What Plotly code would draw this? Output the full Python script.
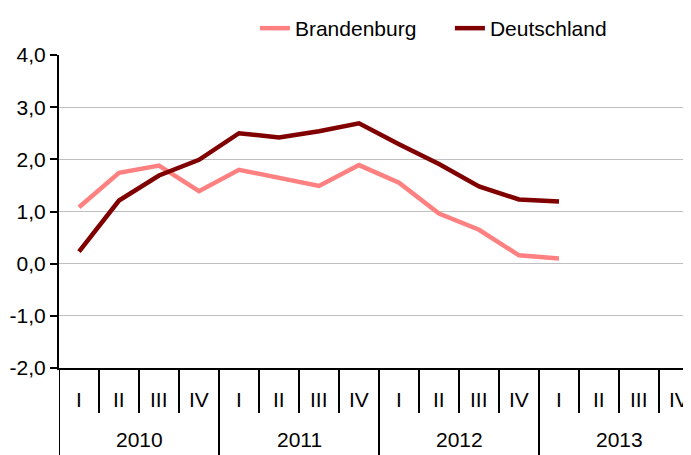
import plotly.graph_objects as go

years = ["2010", "2011", "2012", "2013"]
quarters = ["I", "II", "III", "IV"]
brandenburg = [1.08, 1.74, 1.88, 1.39, 1.80, 1.65, 1.49, 1.89, 1.55, 0.96, 0.65, 0.16, 0.10]
deutschland = [0.23, 1.21, 1.69, 1.99, 2.50, 2.42, 2.54, 2.69, 2.29, 1.91, 1.48, 1.23, 1.19]
y_ticks = [-2, -1, 0, 1, 2, 3, 4]
y_tick_labels = ["-2,0", "-1,0", "0,0", "1,0", "2,0", "3,0", "4,0"]

FONT = "Liberation Sans, Arial, sans-serif"
FS = 21
n_q = len(years) * len(quarters)

fig = go.Figure()
fig.add_trace(go.Scatter(x=list(range(len(brandenburg))), y=brandenburg, mode="lines",
                         name="Brandenburg", line=dict(color="#FF8080", width=4.5)))
fig.add_trace(go.Scatter(x=list(range(len(deutschland))), y=deutschland, mode="lines",
                         name="Deutschland", line=dict(color="#800000", width=4.5)))

shapes = []
annotations = []
for i in range(n_q):
    annotations.append(dict(x=i, y=-0.102, xref="x", yref="paper", text=quarters[i % 4],
                            showarrow=False, xanchor="center", yanchor="middle",
                            font=dict(size=FS, color="#000", family=FONT)))
    sep = i + 0.5
    if sep < n_q - 0.5:
        is_year = (i % 4) == 3
        shapes.append(dict(type="line", xref="x", yref="paper", x0=sep, x1=sep,
                           y0=0, y1=-0.32 if is_year else -0.1438,
                           line=dict(color="#000", width=2)))
for j, yr in enumerate(years):
    annotations.append(dict(x=j * 4 + 1.5, y=-0.230, xref="x", yref="paper", text=yr,
                            showarrow=False, xanchor="center", yanchor="middle",
                            font=dict(size=FS, color="#000", family=FONT)))
# y axis line extends downward
shapes.append(dict(type="line", xref="x", yref="paper", x0=-0.5, x1=-0.5, y0=0, y1=-0.32,
                   line=dict(color="#000", width=2)))

fig.update_layout(
    width=691, height=455,
    margin=dict(l=51, r=8, t=47, b=95),
    paper_bgcolor="white", plot_bgcolor="white",
    font=dict(family=FONT, size=FS, color="#000"),
    showlegend=True,
    legend=dict(orientation="h", x=0.310, xanchor="left", xref="paper",
                y=1.0, yanchor="top", yref="container",
                font=dict(size=FS, color="#000", family=FONT), bgcolor="rgba(0,0,0,0)",
                entrywidth=150),
    xaxis=dict(range=[-0.5, 15.3], showgrid=False, zeroline=False, showline=True,
               linecolor="#000", linewidth=2, showticklabels=False, ticks="",
               automargin=False),
    yaxis=dict(range=[-2, 4], tickvals=y_ticks, ticktext=y_tick_labels, showgrid=True,
               gridcolor="#BFBFBF", gridwidth=1, zeroline=False, showline=True,
               linecolor="#000", linewidth=2, ticks="outside", ticklen=7,
               tickcolor="#000", tickwidth=1.5, automargin=False,
               tickfont=dict(size=FS, family=FONT, color="#000")),
    shapes=shapes,
    annotations=annotations,
)

fig.write_html("out.html")
